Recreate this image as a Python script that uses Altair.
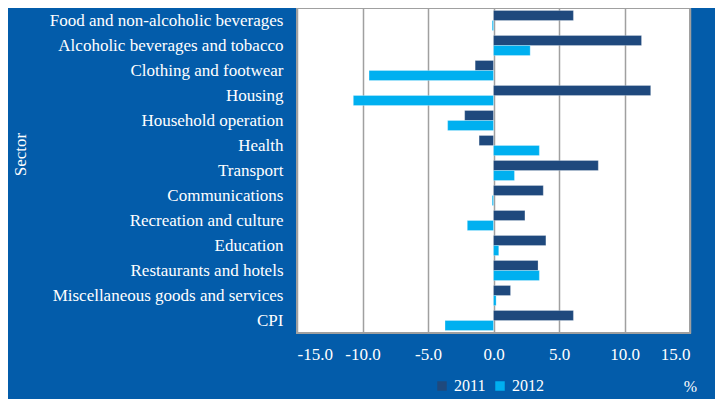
import altair as alt
import pandas as pd

sectors = [
    "Food and non-alcoholic beverages",
    "Alcoholic beverages and tobacco",
    "Clothing and footwear",
    "Housing",
    "Household operation",
    "Health",
    "Transport",
    "Communications",
    "Recreation and culture",
    "Education",
    "Restaurants and hotels",
    "Miscellaneous goods and services",
    "CPI",
]
v2011 = [6.1, 11.3, -1.4, 12.0, -2.2, -1.1, 8.0, 3.8, 2.4, 4.0, 3.4, 1.3, 6.1]
v2012 = [-0.1, 2.8, -9.5, -10.7, -3.5, 3.5, 1.6, -0.1, -2.0, 0.4, 3.5, 0.2, -3.7]
years = ["2011", "2012"]
colors = ["#1f497d", "#00b0f0"]
x_ticks = [-15, -10, -5, 0, 5, 10, 15]

rows = []
for s, a, b in zip(sectors, v2011, v2012):
    rows.append({"Sector": s, "Year": years[0], "Value": a})
    rows.append({"Sector": s, "Year": years[1], "Value": b})
df = pd.DataFrame(rows)

FONT = "Liberation Serif"
BG = "#035caa"

chart = (
    alt.Chart(df)
    .mark_bar(stroke="#ffffff", strokeWidth=0.5, strokeOpacity=0.5)
    .encode(
        x=alt.X(
            "Value:Q",
            scale=alt.Scale(domain=[-15, 15], nice=False),
            axis=alt.Axis(
                values=x_ticks,
                labelExpr="(datum.value < 0 ? '-' : '') + format(abs(datum.value), '.1f')",
                title="%",
                titleX=393,
                titleY=53,
                titleAnchor="end",
                titleAlign="center",
                titleBaseline="middle",
                titleFont=FONT,
                titleFontSize=16,
                titleFontWeight="normal",
                titleColor="white",
                labelFont=FONT,
                labelFontSize=17,
                labelColor="white",
                labelPadding=13,
                ticks=False,
                domain=False,
                grid=True,
                gridColor="#a0a0a0",
                gridWidth=1.5,
            ),
        ),
        y=alt.Y(
            "Sector:N",
            sort=sectors,
            scale=alt.Scale(paddingInner=0.2, paddingOuter=0.1),
            axis=alt.Axis(
                title="Sector",
                titleX=-277,
                titleY=146,
                titleAngle=-90,
                titleAlign="center",
                titleBaseline="middle",
                titleFont=FONT,
                titleFontSize=17,
                titleFontWeight="normal",
                titleColor="white",
                labelFont=FONT,
                labelFontSize=17,
                labelColor="white",
                labelPadding=14,
                labelLimit=300,
                ticks=False,
                domain=False,
                grid=False,
            ),
        ),
        yOffset=alt.YOffset("Year:N", sort=years, scale=alt.Scale(paddingInner=0, paddingOuter=0)),
        color=alt.Color(
            "Year:N",
            sort=years,
            scale=alt.Scale(domain=years, range=colors),
            legend=alt.Legend(
                title=None,
                orient="none",
                legendX=137,
                legendY=370,
                direction="horizontal",
                symbolType="square",
                symbolSize=90,
                symbolStrokeWidth=0,
                labelFont=FONT,
                labelFontSize=16,
                labelColor="white",
                columnPadding=6,
                labelOffset=4,
            ),
        ),
    )
    .properties(
        width=393,
        height=325,
        background=BG,
        padding={"left": 289, "top": 0, "right": 25, "bottom": 66},
        autosize=alt.AutoSizeParams(type="none"),
    )
    .configure_view(fill="white", stroke="#a0a0a0", strokeWidth=2)
)

chart.save("out.html", embed_options={"renderer": "svg", "actions": False})
